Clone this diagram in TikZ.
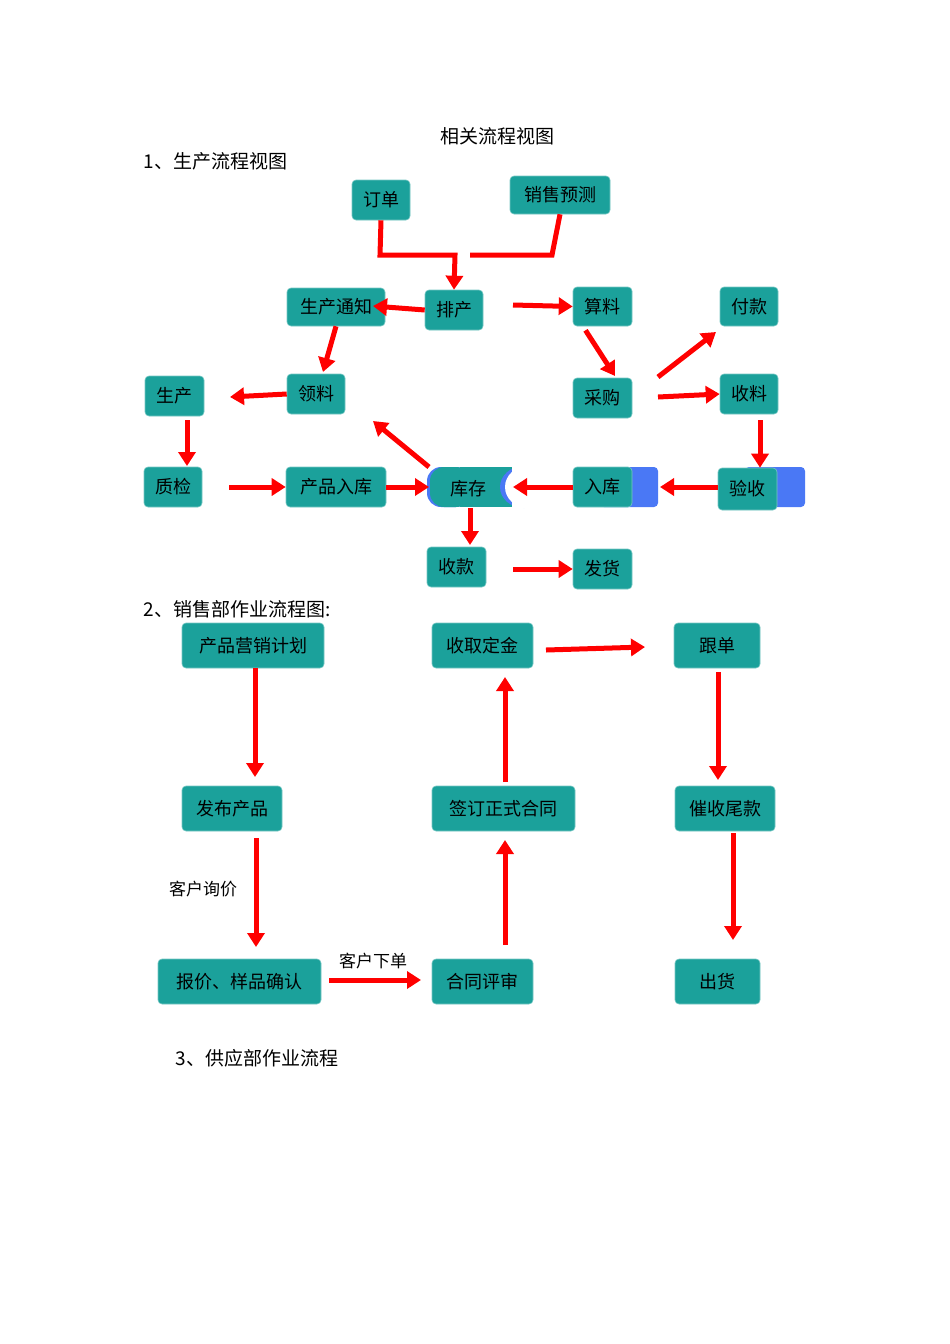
\documentclass[tikz,border=0pt]{standalone}
\usepackage{fontspec}
\setmainfont{Noto Sans CJK SC}
\usetikzlibrary{arrows.meta}
\definecolor{teal1}{HTML}{1BA19B}
\definecolor{blu}{HTML}{4A78F5}
\begin{document}
\begin{tikzpicture}[x=1pt,y=-1pt,
  bx/.style={fill=teal1,draw=teal1!60!white,line width=0.6pt,rounded corners=4pt,font=\fontsize{18}{20}\selectfont},
  ar/.style={red,line width=5pt,-{Triangle[length=14pt,width=17pt]}},
  ln/.style={red,line width=5pt},
  tt/.style={font=\fontsize{19}{21}\selectfont,anchor=west}]
\useasboundingbox (0,0) rectangle (950,1344);
\newcommand\bx[6]{\node[bx,minimum width=#4-#2,minimum height=#5-#3,inner sep=0pt] (#1) at ({(#2+#4)/2},{(#3+#5)/2}) {#6};}
\node[font=\fontsize{19}{21}\selectfont] (t0) at (497,136) {相关流程视图};
\node[tt] (t1) at (140,161) {1、生产流程视图};
\node[tt] (t2) at (140,609) {2、销售部作业流程图:};
\node[tt] (t3) at (172,1058) {3、供应部作业流程};
% blue backs
\fill[blu,rounded corners=4pt] (600,467) rectangle (658,507);
\fill[blu,rounded corners=4pt] (745,467) rectangle (805,507);
\bx{dd}{352}{180}{410}{220}{订单}
\bx{xs}{510}{176}{610}{214}{销售预测}
\bx{sctz}{287}{288}{385}{326}{生产通知}
\bx{pc}{425}{290}{483}{330}{排产}
\bx{sl}{573}{287}{632}{326}{算料}
\bx{fk}{720}{287}{778}{326}{付款}
\bx{sc}{145}{376}{204}{416}{生产}
\bx{ll}{287}{374}{345}{414}{领料}
\bx{cg}{573}{378}{632}{418}{采购}
\bx{shl}{720}{374}{778}{414}{收料}
\bx{zj}{144}{467}{202}{507}{质检}
\bx{cprk}{286}{467}{386}{507}{产品入库}
\bx{rk}{573}{467}{632}{507}{入库}
\bx{ys}{718}{468}{777}{510}{验收}
\bx{sk}{427}{547}{486}{587}{收款}
\bx{fh}{573}{549}{632}{589}{发货}
% 库存
\fill[blu,rounded corners=14pt] (427,467) rectangle (470,507);
\fill[teal1,rounded corners=14pt] (430,467) rectangle (470,507);
\fill[teal1] (460,467) rectangle (512,507);
\fill[blu] (524,487) ellipse (24 and 21);
\fill[white] (528,487) ellipse (23 and 21);
\fill[white] (512,466) rectangle (560,508);
\fill[blu] (512,487) ellipse (0.01 and 0.01);
\node[font=\fontsize{18}{20}\selectfont] (kc) at (468,489) {库存};
\coordinate (kcL) at (429,467);
\coordinate (kcR) at (513,487);
\coordinate (kcB) at (470,508);
% arrows section 1
\draw[ar] (dd.south) -- (380,255) -- (455,255) -- (pc.north);
\draw[ln] (xs.south) -- (552,255) -- (470,255);
\draw[ar] (pc.west) -- (373,306);
\draw[ar] (513,305) -- (sl.west);
\draw[ar] (sctz.south) -- (323,372);
\draw[ar] (ll.west) -- (230,397);
\draw[ar] (sl.south) ++(-17,4) -- (615,376);
\draw[ar] (658,377) -- (716,332);
\draw[ar] (658,397) -- (shl.west);
\draw[ar] (760,420) -- (ys.north -| 760,0);
\draw[ar] (187,420) -- (187,466);
\draw[ar] (229,487) -- (cprk.west);
\draw[ar] (cprk.east) -- (kcL |- 0,487);
\draw[ar] (kcL) -- (373,421);
\draw[ar] (rk.west) -- (kcR);
\draw[ar] (ys.west |- 0,487) -- (660,487);
\draw[ar] (kcB) -- (470,545);
\draw[ar] (513,569) -- (fh.west);
% section 2
\bx{yx}{182}{623}{324}{668}{产品营销计划}
\bx{qd}{432}{623}{533}{668}{收取定金}
\bx{gd}{674}{623}{760}{668}{跟单}
\bx{fb}{182}{786}{282}{831}{发布产品}
\bx{qy}{432}{786}{575}{831}{签订正式合同}
\bx{cs}{675}{786}{775}{831}{催收尾款}
\bx{bj}{158}{959}{321}{1004}{报价、样品确认}
\bx{ps}{432}{959}{533}{1004}{合同评审}
\bx{ch}{675}{959}{760}{1004}{出货}
\draw[ar] (255,668) -- (255,777);
\draw[ar] (546,650) -- (645,647);
\draw[ar] (718,672) -- (718,780);
\draw[ar] (505,782) -- (505,677);
\draw[ar] (256,838) -- (256,947);
\draw[ar] (505,945) -- (505,840);
\draw[ar] (733,833) -- (733,940);
\draw[ar] (329,980) -- (421,980);
\node[font=\fontsize{17}{19}\selectfont] (l1) at (203,889) {客户询价};
\node[font=\fontsize{17}{19}\selectfont] (l2) at (373,961) {客户下单};
\end{tikzpicture}
\end{document}
